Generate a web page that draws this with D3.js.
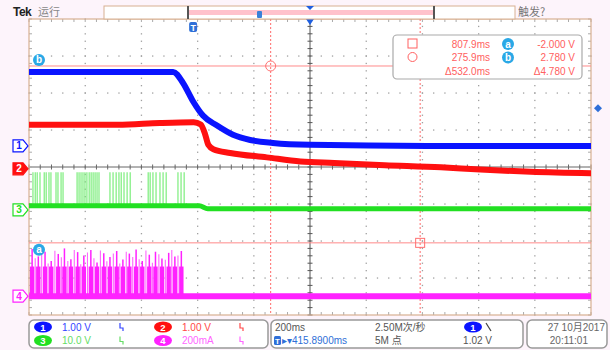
<!DOCTYPE html>
<html>
<head>
<meta charset="utf-8">
<script src="https://cdn.jsdelivr.net/npm/d3@7"></script>
<style>
  html, body { margin: 0; padding: 0; background: #fdf4fb; }
  svg { display: block; font-family: "Liberation Sans", "DejaVu Sans", "Noto Sans CJK SC", sans-serif; }
</style>
</head>
<body>
<svg id="scope" width="610" height="350"></svg>
<script>
// time in ms relative to trigger; values in channel units (V, V, V, mA)
const screenTime = [-584.11, 1415.89];
const ch1Trace = [[-584, 2.0], [-71, 2.0], [-36, 1.70], [0, 1.20], [35, 0.82], [85, 0.55],
  [142, 0.30], [203, 0.16], [284, 0.08], [416, 0.03], [832, 0.0], [1416, 0.0]];
const ch2Trace = [[-584, 1.19], [-268, 1.19], [-118, 1.24], [2, 1.26], [27, 1.20], [42, 0.95],
  [54, 0.65], [72, 0.53], [132, 0.43], [262, 0.31], [382, 0.20], [502, 0.16], [682, 0.10],
  [882, 0.04], [1022, -0.02], [1202, -0.08], [1416, -0.12]];
const ch3Trace = [[-584, 1.1], [22, 1.1], [52, 0.3], [1416, 0.3]];
const ch3SpikeTimes = [-570, -562, -555, -545, -530, -523, -513, -506, -488, -481, -470, -463,
  -413, -406, -399, -392, -385, -378, -370, -363, -356, -349, -342, -335,
  -296, -285, -274, -264, -256, -246, -235, -224,
  -160, -153, -143, -132, -118, -107, -96, -54, -43, -32];
const ch3SpikeTop = 10.2;
const ch4Trace = [[-584, 0], [1416, 0]];
const ch4BurstTimes = [-573, -551, -527, -505, -480, -458, -435, -411, -389, -364, -342, -318,
  -296, -272, -250, -227, -203, -181, -156, -134, -111, -87, -65, -42];
const ch4BurstPeaks = [255, 215, 240, 190, 228, 258, 200, 238, 220, 250, 182, 232,
  212, 244, 198, 230, 252, 190, 224, 240, 204, 234, 214, 244];
const ch4SpikeTimes = [-562, -539, -516, -492, -469, -446, -423, -400, -376, -353, -330, -307,
  -284, -261, -238, -215, -192, -168, -145, -122, -99, -76, -54];
const ch4SpikePeaks = [205, 232, 176, 245, 210, 190, 250, 172, 236, 205, 246, 188,
  230, 176, 240, 212, 200, 246, 180, 226, 196, 250, 220];
const ch4BurstBody = 160;

const cursorTimes = [807.9, 275.9];   // a (square), b (circle)
const cursorVolts = [-2.000, 2.780];  // on channel 2
const triggerLevel = 1.02;            // channel 1

const channelNames = ['1', '2', '3', '4'];
const channelScaleText = ['1.00 V', '1.00 V', '10.0 V', '200mA'];
const channelPerDiv = [1, 1, 10, 200];
const channelZeroDiv = [0.57, -0.05, -1.16, -3.49];
const channelColors = ['#0a14ff', '#ff1010', '#22e022', '#ff22ff'];

const gL = 29, gR = 591, gT = 19, gB = 315;
const svg = d3.select('#scope');

const x = d3.scaleLinear().domain(screenTime).range([gL, gR]);
const xDiv = d3.scaleLinear().domain([0, 10]).range([gL, gR]);
const yDiv = d3.scaleLinear().domain([-4, 4]).range([gB, gT]);
const yCh = (c, v) => yDiv(channelZeroDiv[c] + v / channelPerDiv[c]);

// graticule
svg.append('rect').attr('x', gL).attr('y', gT).attr('width', gR - gL).attr('height', gB - gT)
  .attr('fill', '#fff');

const defs = svg.append('defs');
defs.append('clipPath').attr('id', 'plot').append('rect')
  .attr('x', gL).attr('y', gT).attr('width', gR - gL).attr('height', gB - gT);

const grid = svg.append('g');
const dots = [];
d3.range(1, 10).forEach(i => {
  if (i === 5) return;
  d3.range(0, 41).forEach(k => dots.push([xDiv(i), yDiv(-4 + k / 5)]));
});
d3.range(-3, 4).forEach(j => {
  if (j === 0) return;
  d3.range(0, 51).forEach(k => dots.push([xDiv(k / 5), yDiv(j)]));
});
grid.selectAll('.dot').data(dots).enter().append('rect').attr('class', 'dot')
  .attr('x', d => d[0] - 0.6).attr('y', d => d[1] - 0.6).attr('width', 1.3).attr('height', 1.3)
  .attr('fill', '#a0a0a0');

// center crosshair with ticks
grid.append('line').attr('x1', xDiv(5)).attr('x2', xDiv(5)).attr('y1', gT).attr('y2', gB)
  .attr('stroke', '#555').attr('stroke-width', 1);
grid.append('line').attr('x1', gL).attr('x2', gR).attr('y1', yDiv(0)).attr('y2', yDiv(0))
  .attr('stroke', '#666').attr('stroke-width', 1);
d3.range(0, 51).forEach(k => {
  const xx = xDiv(k / 5);
  grid.append('line').attr('x1', xx).attr('x2', xx).attr('y1', yDiv(0) - 2.5).attr('y2', yDiv(0) + 2.5)
    .attr('stroke', '#666');
  grid.append('line').attr('x1', xx).attr('x2', xx).attr('y1', gT).attr('y2', gT + 3).attr('stroke', '#aaa');
  grid.append('line').attr('x1', xx).attr('x2', xx).attr('y1', gB - 3).attr('y2', gB).attr('stroke', '#aaa');
});
d3.range(0, 41).forEach(k => {
  const yy = yDiv(-4 + k / 5);
  grid.append('line').attr('x1', xDiv(5) - 2.5).attr('x2', xDiv(5) + 2.5).attr('y1', yy).attr('y2', yy)
    .attr('stroke', '#555');
  grid.append('line').attr('x1', gL).attr('x2', gL + 3).attr('y1', yy).attr('y2', yy).attr('stroke', '#aaa');
  grid.append('line').attr('x1', gR - 3).attr('x2', gR).attr('y1', yy).attr('y2', yy).attr('stroke', '#aaa');
});
svg.append('rect').attr('x', gL).attr('y', gT).attr('width', gR - gL).attr('height', gB - gT)
  .attr('fill', 'none').attr('stroke', '#d8b092').attr('stroke-width', 1.2);

// cursors
const cur = svg.append('g').attr('clip-path', 'url(#plot)');
cursorTimes.forEach(t => {
  cur.append('line').attr('x1', x(t)).attr('x2', x(t)).attr('y1', gT).attr('y2', gB)
    .attr('stroke', '#ff6a6a').attr('stroke-width', 1).attr('stroke-dasharray', '2,2');
});
cursorVolts.forEach(v => {
  cur.append('line').attr('x1', gL).attr('x2', gR).attr('y1', yCh(1, v)).attr('y2', yCh(1, v))
    .attr('stroke', '#ff8a8a').attr('stroke-width', 1);
});

// traces
const plot = svg.append('g').attr('clip-path', 'url(#plot)');
const traceLine = c => d3.line().x(d => x(d[0])).y(d => yCh(c, d[1])).curve(d3.curveMonotoneX);

// channel 4 burst
plot.selectAll('.body4').data(ch4BurstTimes).enter().append('rect').attr('class', 'body4')
  .attr('x', d => x(d) - 2.2).attr('width', 4.4)
  .attr('y', yCh(3, ch4BurstBody)).attr('height', yCh(3, 0) - yCh(3, ch4BurstBody))
  .attr('fill', channelColors[3]);
plot.selectAll('.peak4').data(ch4BurstTimes).enter().append('line').attr('class', 'peak4')
  .attr('x1', d => x(d)).attr('x2', d => x(d))
  .attr('y1', yCh(3, 0)).attr('y2', (d, i) => yCh(3, ch4BurstPeaks[i]))
  .attr('stroke', channelColors[3]).attr('stroke-width', 1.5);
plot.selectAll('.spike4').data(ch4SpikeTimes).enter().append('line').attr('class', 'spike4')
  .attr('x1', d => x(d)).attr('x2', d => x(d))
  .attr('y1', yCh(3, 0)).attr('y2', (d, i) => yCh(3, ch4SpikePeaks[i]))
  .attr('stroke', '#ff66ff').attr('stroke-width', 1.1);
plot.append('path').datum(ch4Trace).attr('d', traceLine(3))
  .attr('fill', 'none').attr('stroke', channelColors[3]).attr('stroke-width', 6);

// channel 3 spikes and trace
plot.selectAll('.spike3').data(ch3SpikeTimes).enter().append('line').attr('class', 'spike3')
  .attr('x1', d => x(d)).attr('x2', d => x(d))
  .attr('y1', yCh(2, 1.1)).attr('y2', yCh(2, ch3SpikeTop))
  .attr('stroke', '#70ec70').attr('stroke-width', 1.1);
plot.append('path').datum(ch3Trace).attr('d', traceLine(2))
  .attr('fill', 'none').attr('stroke', channelColors[2]).attr('stroke-width', 5);

plot.append('path').datum(ch2Trace).attr('d', traceLine(1))
  .attr('fill', 'none').attr('stroke', channelColors[1]).attr('stroke-width', 6);
plot.append('path').datum(ch1Trace).attr('d', traceLine(0))
  .attr('fill', 'none').attr('stroke', channelColors[0]).attr('stroke-width', 6);

// cursor markers
svg.append('circle').attr('cx', x(cursorTimes[1])).attr('cy', yCh(1, cursorVolts[1])).attr('r', 5)
  .attr('fill', 'none').attr('stroke', '#ff7070');
svg.append('rect').attr('x', x(cursorTimes[0]) - 4.5).attr('y', yCh(1, cursorVolts[0]) - 4.5)
  .attr('width', 9).attr('height', 9).attr('fill', 'none').attr('stroke', '#ff7070');

const badge = (g, cx, cy, letter) => {
  g.append('circle').attr('cx', cx).attr('cy', cy).attr('r', 6).attr('fill', '#2aa8e6');
  g.append('text').attr('x', cx).attr('y', cy + 3.5).attr('text-anchor', 'middle')
    .attr('font-size', 10).attr('font-weight', 'bold').attr('fill', '#fff').text(letter);
};
badge(svg, 39, yCh(1, cursorVolts[1]) - 6, 'b');
badge(svg, 39, yCh(1, cursorVolts[0]) + 7, 'a');

// channel ground markers
channelNames.forEach((n, c) => {
  const yy = yCh(c, 0);
  const filled = c === 1;
  svg.append('path')
    .attr('d', `M13,${yy - 6} H23 L28,${yy} L23,${yy + 6} H13 Z`)
    .attr('fill', filled ? channelColors[c] : '#fff').attr('stroke', channelColors[c]).attr('stroke-width', 1.2);
  svg.append('text').attr('x', 19).attr('y', yy + 3.5).attr('text-anchor', 'middle')
    .attr('font-size', 10).attr('font-weight', 'bold')
    .attr('fill', filled ? '#fff' : channelColors[c]).text(n);
});

// trigger markers
const tx = x(0);
svg.append('rect').attr('x', tx - 4).attr('y', 22).attr('width', 8).attr('height', 10).attr('rx', 2)
  .attr('fill', '#2f6fd8');
svg.append('text').attr('x', tx).attr('y', 30.5).attr('text-anchor', 'middle').attr('font-size', 9)
  .attr('font-weight', 'bold').attr('fill', '#fff').text('T');
svg.append('path').attr('d', `M${xDiv(5) - 4},${gT} H${xDiv(5) + 4} L${xDiv(5)},${gT + 6} Z`).attr('fill', '#1f5fe0');
const tl = yCh(0, triggerLevel);
svg.append('path').attr('d', `M594,${tl} L598,${tl - 4} L602,${tl} L598,${tl + 4} Z`).attr('fill', '#2f6fd8');

// top bar
svg.append('text').attr('x', 13).attr('y', 16).attr('font-size', 12).attr('font-weight', 'bold')
  .attr('fill', '#222').attr('letter-spacing', -0.5).text('Tek');
svg.append('text').attr('x', 38).attr('y', 16).attr('font-size', 11).attr('fill', '#888')
  .attr('font-family', '"Noto Sans CJK SC", sans-serif').text('运行');
svg.append('rect').attr('x', 104).attr('y', 6).attr('width', 411).attr('height', 13)
  .attr('fill', '#fff').attr('stroke', '#d8b092');
svg.append('rect').attr('x', 188).attr('y', 10).attr('width', 246).attr('height', 5).attr('fill', '#ffc2cc');
[188, 434].forEach(bx => svg.append('line').attr('x1', bx).attr('x2', bx).attr('y1', 6).attr('y2', 19)
  .attr('stroke', '#555').attr('stroke-width', 2));
svg.append('rect').attr('x', 257).attr('y', 11).attr('width', 5).attr('height', 7).attr('rx', 1).attr('fill', '#3a80d8');
svg.append('path').attr('d', 'M306,6 H314 L310,10 Z').attr('fill', '#1f5fe0');
svg.append('text').attr('x', 518).attr('y', 16).attr('font-size', 11).attr('fill', '#777')
  .attr('font-family', '"Noto Sans CJK SC", sans-serif').text('触发?');

// cursor readout box
const mb = svg.append('g');
mb.append('rect').attr('x', 393).attr('y', 35).attr('width', 189).attr('height', 44).attr('rx', 4)
  .attr('fill', '#fff').attr('stroke', '#aaa').attr('stroke-width', 1.2);
const red = '#ff6060';
mb.append('rect').attr('x', 408).attr('y', 39).attr('width', 9).attr('height', 9).attr('fill', 'none').attr('stroke', red);
mb.append('circle').attr('cx', 412.5).attr('cy', 57).attr('r', 4.5).attr('fill', 'none').attr('stroke', red);
const mt = (xx, yy, s) => mb.append('text').attr('x', xx).attr('y', yy).attr('text-anchor', 'end')
  .attr('font-size', 10).attr('fill', red).text(s);
mt(490, 47.5, `${cursorTimes[0].toFixed(1)}ms`);
mt(490, 61, `${cursorTimes[1].toFixed(1)}ms`);
mt(490, 75, `Δ${(cursorTimes[0] - cursorTimes[1]).toFixed(1)}ms`);
mt(575, 47.5, `${cursorVolts[0].toFixed(3)} V`);
mt(575, 61, `${cursorVolts[1].toFixed(3)} V`);
mt(575, 75, `Δ${(cursorVolts[1] - cursorVolts[0]).toFixed(3)} V`);
badge(mb, 508, 44, 'a');
badge(mb, 508, 57.5, 'b');

// bottom panels
const panel = (x0, x1) => svg.append('rect').attr('x', x0).attr('y', 320).attr('width', x1 - x0).attr('height', 28)
  .attr('rx', 5).attr('fill', '#fff').attr('stroke', '#999').attr('stroke-width', 1.5);
panel(29, 268); panel(271, 523); panel(527, 607);

const textColors = ['#3344ff', '#ff4848', '#66dd66', '#ff66ff'];
const chip = (cx, cy, fill, label) => {
  svg.append('ellipse').attr('cx', cx).attr('cy', cy).attr('rx', 9).attr('ry', 5.5).attr('fill', fill);
  svg.append('text').attr('x', cx).attr('y', cy + 3.5).attr('text-anchor', 'middle').attr('font-size', 9.5)
    .attr('font-weight', 'bold').attr('fill', '#fff').text(label);
};
const coupling = (xx, yy, col) => svg.append('path')
  .attr('d', `M${xx},${yy - 4} V${yy + 1} H${xx + 3} V${yy + 4}`).attr('fill', 'none').attr('stroke', col).attr('stroke-width', 1.2);
channelNames.forEach((n, c) => {
  const cx = c % 2 === 0 ? 43 : 163;
  const cy = c < 2 ? 327 : 340.5;
  chip(cx, cy, channelColors[c], n);
  svg.append('text').attr('x', cx + 19).attr('y', cy + 3.5).attr('font-size', 10).attr('fill', textColors[c])
    .text(channelScaleText[c]);
  coupling(cx + 77, cy, textColors[c]);
});

const info = (xx, yy, s, col, anchor) => svg.append('text').attr('x', xx).attr('y', yy)
  .attr('text-anchor', anchor || 'start').attr('font-size', 10).attr('fill', col)
  .attr('font-family', '"Liberation Sans", "Noto Sans CJK SC", sans-serif').text(s);
info(275, 330.5, '200ms', '#555');
info(375, 330.5, '2.50M次/秒', '#555');
chip(473, 327, channelColors[0], '1');
svg.append('line').attr('x1', 486).attr('x2', 491).attr('y1', 323).attr('y2', 331).attr('stroke', '#444').attr('stroke-width', 1.2);
svg.append('rect').attr('x', 274).attr('y', 336).attr('width', 7).attr('height', 9).attr('rx', 1.5).attr('fill', '#2f6fd8');
svg.append('text').attr('x', 277.5).attr('y', 343.5).attr('text-anchor', 'middle').attr('font-size', 8)
  .attr('font-weight', 'bold').attr('fill', '#fff').text('T');
info(282, 344, `▸▾${(screenTime[0] + 1000).toFixed(4)}ms`, '#2f70d8');
info(375, 344, '5M 点', '#555');
info(492, 344, `${triggerLevel.toFixed(2)} V`, '#555', 'end');
info(605, 330.5, '27 10月2017', '#666', 'end');
info(588, 344, '20:11:01', '#666', 'end');
</script>
</body>
</html>
